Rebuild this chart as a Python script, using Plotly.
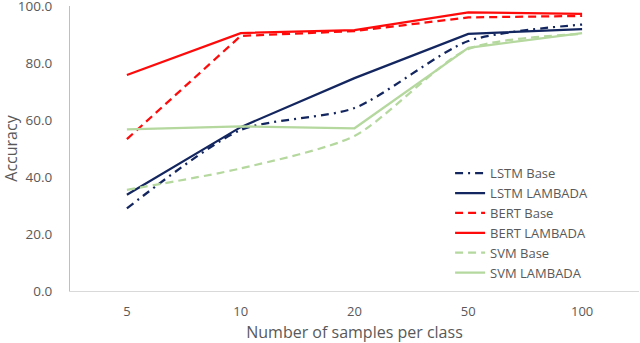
import plotly.graph_objects as go

muestras = ["5", "10", "20", "50", "100"]

lstm_base = [29.0, 56.5, 64.2, 87.7, 93.5]
lstm_lambada = [33.8, 57.5, 74.7, 90.2, 91.9]
bert_base = [53.3, 89.5, 91.2, 96.0, 96.5]
bert_lambada = [75.8, 90.5, 91.5, 97.8, 97.2]
svm_base = [35.5, 43.0, 54.4, 84.9, 90.2]
svm_lambada = [56.7, 57.8, 57.1, 85.3, 90.5]

NAVY = "#13265f"
ROJO = "#ff0a0a"
VERDE = "#b4d89e"
GRIS = "#595959"

series = [
    ("LSTM Base", lstm_base, NAVY, "8px,5px,2px,5px", "spline"),
    ("LSTM LAMBADA", lstm_lambada, NAVY, "solid", "linear"),
    ("BERT Base", bert_base, ROJO, "8px,5px", "linear"),
    ("BERT LAMBADA", bert_lambada, ROJO, "solid", "linear"),
    ("SVM Base", svm_base, VERDE, "8px,5px", "spline"),
    ("SVM LAMBADA", svm_lambada, VERDE, "solid", "linear"),
]

fig = go.Figure()
for nombre, valores, color, guion, forma in series:
    fig.add_trace(go.Scatter(
        x=muestras, y=valores, mode="lines", name=nombre,
        line=dict(color=color, width=2.25, dash=guion, shape=forma, smoothing=0.7),
    ))

fig.update_layout(
    width=640, height=343,
    margin=dict(l=70, r=1, t=6, b=52),
    plot_bgcolor="white", paper_bgcolor="white",
    font=dict(family="Open Sans", color=GRIS, size=13),
    showlegend=True,
    legend=dict(
        x=0.668, y=0.466, xanchor="left", yanchor="top",
        font=dict(size=13, color=GRIS), bgcolor="rgba(0,0,0,0)",
        tracegroupgap=0,
    ),
    xaxis=dict(
        type="category", range=[-0.5, 4.5], automargin=False,
        showline=True, linecolor="#d9d9d9", linewidth=1,
        showgrid=False, ticks="", ticklabelstandoff=8,
        tickfont=dict(size=13, color=GRIS),
        title=dict(text="Number of samples per class", font=dict(size=16, color=GRIS), standoff=14),
    ),
    yaxis=dict(
        range=[0, 100], tickvals=[0, 20, 40, 60, 80, 100], tickformat=".1f",
        automargin=False, ticklabeloverflow="allow",
        showline=True, linecolor="#bfbfbf", linewidth=1,
        showgrid=False, zeroline=False, ticks="", ticklabelstandoff=14,
        tickfont=dict(size=13.5, color=GRIS),
        title=dict(text="Accuracy", font=dict(size=16, color=GRIS), standoff=15),
    ),
)

# la página trae margen de 8px en el body; se quita para que el gráfico quede en 0,0
fig.write_html("out.html", config={"displayModeBar": False},
               post_script="document.body.style.margin = '0px';")
